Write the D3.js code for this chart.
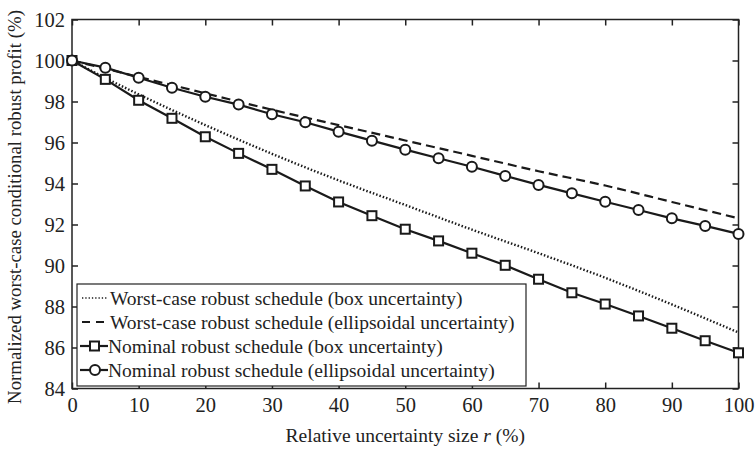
<!DOCTYPE html>
<html lang="en">

<head>
    <meta charset="UTF-8">
    <title>Normalized worst-case conditional robust profit</title>
    <script src="https://d3js.org/d3.v7.min.js"></script>
</head>
<style>
    body {
        margin: 0;
        background: #fff;
    }

    text {
        font-family: "Liberation Serif", "DejaVu Serif", serif;
        fill: #222;
    }

    .frame {
        fill: none;
        stroke: #222;
        stroke-width: 1.5px;
    }

    .tick-mark {
        stroke: #222;
        stroke-width: 1.5px;
    }

    .series {
        fill: none;
        stroke: #1a1a1a;
    }
</style>

<body>
    <svg id="chart"></svg>

    <script>
        // r (%) sampled every 5 for the nominal schedules (markers)
        var rValues = [0, 5, 10, 15, 20, 25, 30, 35, 40, 45, 50, 55, 60, 65, 70, 75, 80, 85, 90, 95, 100];
        var nominalBox = [100, 99.08, 98.06, 97.18, 96.28, 95.47, 94.69, 93.88, 93.1, 92.43, 91.77,
            91.2, 90.6, 90.01, 89.33, 88.67, 88.12, 87.54, 86.94, 86.33, 85.74];
        var nominalEllip = [100, 99.65, 99.16, 98.67, 98.23, 97.85, 97.38, 96.99, 96.53, 96.09, 95.65,
            95.23, 94.82, 94.37, 93.93, 93.52, 93.11, 92.71, 92.3, 91.93, 91.54];

        // worst-case robust schedules (plain curves)
        var worstR = [0, 5, 10, 20, 30, 40, 50, 60, 70, 80, 90, 100];
        var worstBox = [100, 99.15, 98.35, 96.85, 95.45, 94.15, 92.95, 91.75, 90.6, 89.4, 88.1, 86.73];
        var worstEllip = [100, 99.6, 99.2, 98.4, 97.6, 96.85, 96.1, 95.35, 94.6, 93.9, 93.1, 92.3];

        var legendLabels = [
            "Worst-case robust schedule (box uncertainty)",
            "Worst-case robust schedule (ellipsoidal uncertainty)",
            "Nominal robust schedule (box uncertainty)",
            "Nominal robust schedule (ellipsoidal uncertainty)"
        ];

        var xTicks = [0, 10, 20, 30, 40, 50, 60, 70, 80, 90, 100];
        var yTicks = [84, 86, 88, 90, 92, 94, 96, 98, 100, 102];

        var W = 756,
            H = 450;
        var margin = {
                top: 19.5,
                right: 17.5,
                bottom: 61.5,
                left: 72
            },
            width = W - margin.left - margin.right,
            height = H - margin.top - margin.bottom;

        var svg = d3.select("#chart")
            .attr("width", W)
            .attr("height", H);

        var g = svg.append("g")
            .attr("transform", "translate(" + margin.left + "," + margin.top + ")");

        var x = d3.scaleLinear().domain([0, 100]).range([0, width]);
        var y = d3.scaleLinear().domain([84, 102]).range([height, 0]);

        // bottom and left axes with inward ticks
        var xAxis = g.append("g")
            .attr("transform", "translate(0," + height + ")")
            .call(d3.axisBottom(x).tickValues(xTicks).tickSize(-6).tickPadding(9));
        var yAxis = g.append("g")
            .call(d3.axisLeft(y).tickValues(yTicks).tickSize(-6).tickPadding(7));
        // mirrored ticks on top and right
        var xTop = g.append("g")
            .call(d3.axisTop(x).tickValues(xTicks).tickSize(-6).tickFormat(""));
        var yRight = g.append("g")
            .attr("transform", "translate(" + width + ",0)")
            .call(d3.axisRight(y).tickValues(yTicks).tickSize(-6).tickFormat(""));

        [xAxis, yAxis, xTop, yRight].forEach(function(a) {
            a.select(".domain").remove();
            a.selectAll(".tick line").attr("class", "tick-mark");
            a.selectAll(".tick text")
                .style("font-size", "20.5px")
                .style("font-family", "'Liberation Serif', serif")
                .attr("fill", "#222");
        });

        g.append("rect")
            .attr("class", "frame")
            .attr("width", width)
            .attr("height", height);

        var line = d3.line()
            .x(function(d) {
                return x(d[0]);
            })
            .y(function(d) {
                return y(d[1]);
            });

        function pairs(rs, vs) {
            return rs.map(function(r, i) {
                return [r, vs[i]];
            });
        }

        // worst-case curves
        g.append("path")
            .attr("class", "series")
            .attr("d", line.curve(d3.curveMonotoneX)(pairs(worstR, worstBox)))
            .attr("stroke-width", 2.4)
            .attr("stroke-dasharray", "1.5,2");
        g.append("path")
            .attr("class", "series")
            .attr("d", line.curve(d3.curveMonotoneX)(pairs(worstR, worstEllip)))
            .attr("stroke-width", 2.2)
            .attr("stroke-dasharray", "9,5");

        // nominal curves
        line.curve(d3.curveLinear);
        g.append("path")
            .attr("class", "series")
            .attr("d", line(pairs(rValues, nominalBox)))
            .attr("stroke-width", 2.2);
        g.append("path")
            .attr("class", "series")
            .attr("d", line(pairs(rValues, nominalEllip)))
            .attr("stroke-width", 2.2);

        // markers
        g.selectAll(".sq")
            .data(pairs(rValues, nominalBox))
            .enter().append("rect")
            .attr("class", "sq")
            .attr("x", function(d) {
                return x(d[0]) - 4.5;
            })
            .attr("y", function(d) {
                return y(d[1]) - 4.5;
            })
            .attr("width", 9)
            .attr("height", 9)
            .attr("fill", "#fff")
            .attr("stroke", "#1a1a1a")
            .attr("stroke-width", 2);

        g.selectAll(".circ")
            .data(pairs(rValues, nominalEllip))
            .enter().append("circle")
            .attr("class", "circ")
            .attr("cx", function(d) {
                return x(d[0]);
            })
            .attr("cy", function(d) {
                return y(d[1]);
            })
            .attr("r", 5)
            .attr("fill", "#fff")
            .attr("stroke", "#1a1a1a")
            .attr("stroke-width", 2);

        // legend
        var legend = svg.append("g").attr("transform", "translate(77,284)");
        legend.append("rect")
            .attr("width", 449)
            .attr("height", 102)
            .attr("fill", "#fff")
            .attr("stroke", "#222")
            .attr("stroke-width", 1.2);

        var rowY = [14, 38, 62, 86];
        legendLabels.forEach(function(lab, i) {
            var row = legend.append("g").attr("transform", "translate(0," + rowY[i] + ")");
            var ln = row.append("line")
                .attr("x1", i < 2 ? 5 : 3)
                .attr("x2", 31)
                .attr("stroke", "#1a1a1a")
                .attr("stroke-width", 2.2);
            if (i == 0) ln.attr("stroke-dasharray", "1.3,2").attr("stroke-width", 1.6);
            if (i == 1) ln.attr("x1", 5).attr("stroke-dasharray", "8,6");
            if (i == 2) {
                row.append("rect")
                    .attr("x", 13).attr("y", -4.5)
                    .attr("width", 9).attr("height", 9)
                    .attr("fill", "#fff").attr("stroke", "#1a1a1a").attr("stroke-width", 2);
            }
            if (i == 3) {
                row.append("circle")
                    .attr("cx", 18).attr("r", 5)
                    .attr("fill", "#fff").attr("stroke", "#1a1a1a").attr("stroke-width", 2);
            }
            row.append("text")
                .attr("x", i < 2 ? 33 : 31)
                .attr("y", 6.5)
                .style("font-size", "19.5px")
                .text(lab);
        });

        // axis titles
        var xt = svg.append("text")
            .attr("x", margin.left + width / 2)
            .attr("y", 442)
            .attr("text-anchor", "middle")
            .style("font-size", "19.5px");
        xt.append("tspan").text("Relative uncertainty size ");
        xt.append("tspan").style("font-style", "italic").text("r");
        xt.append("tspan").text(" (%)");

        svg.append("text")
            .attr("transform", "translate(21,207) rotate(-90)")
            .attr("text-anchor", "middle")
            .style("font-size", "18.8px")
            .text("Normalized worst-case conditional robust profit (%)");
    </script>
</body>

</html>
